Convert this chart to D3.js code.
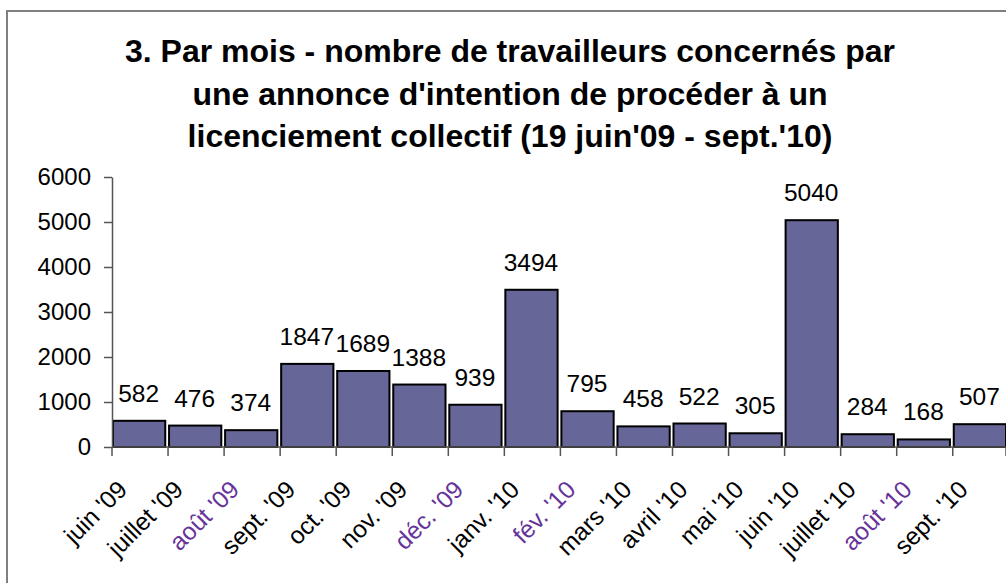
<!DOCTYPE html>
<html lang="fr">
<head>
<meta charset="UTF-8">
<title>Licenciements collectifs par mois</title>
<style>
  html, body { margin: 0; padding: 0; background: #fff; }
  body { font-family: Arial, "Liberation Sans", sans-serif; }
  #chart { width: 1006px; height: 583px; }
</style>
<script src="https://d3js.org/d3.v7.min.js"></script>
</head>
<body>
<div id="chart"></div>
<script>
// data
const months = ["juin '09", "juillet '09", "août '09", "sept. '09", "oct. '09", "nov. '09",
                "déc. '09", "janv. '10", "fév. '10", "mars '10", "avril '10", "mai '10",
                "juin '10", "juillet '10", "août '10", "sept. '10"];
const workers = [582, 476, 374, 1847, 1689, 1388, 939, 3494, 795, 458, 522, 305, 5040, 284, 168, 507];
const yTicks = [0, 1000, 2000, 3000, 4000, 5000, 6000];
const titleLines = ["3. Par mois - nombre de travailleurs concernés par",
                    "une annonce d'intention de procéder à un",
                    "licenciement collectif (19 juin'09 - sept.'10)"];
// labels that come out purple in the original
const purpleLabels = ["août '09", "déc. '09", "fév. '10", "août '10"];

const W = 1006, H = 583;
const svg = d3.select('#chart').append('svg')
    .attr('width', W)
    .attr('height', H);

// outer frame (right / bottom edges fall outside the picture)
svg.append('rect')
    .attr('x', 7).attr('y', 11)
    .attr('width', 1020).attr('height', 600)
    .attr('fill', 'none')
    .attr('stroke', '#808080')
    .attr('stroke-width', 2);

// title
svg.append('g').selectAll('text')
    .data(titleLines)
    .enter().append('text')
      .attr('x', 510)
      .attr('y', (d, i) => 62 + i * 42.5)
      .attr('text-anchor', 'middle')
      .style('font-weight', 'bold')
      .style('font-size', '32px')
      .text(d => d);

const x = d3.scaleBand()
    .domain(months)
    .range([112, 1006])
    .paddingInner(0.05)
    .paddingOuter(0)
    .align(0);

const y = d3.scaleLinear()
    .domain([0, 6000])
    .range([447, 177]);

// bars
svg.append('g').selectAll('rect')
    .data(months)
    .enter().append('rect')
      .attr('x', d => x(d) + 1)
      .attr('y', (d, i) => y(workers[i]))
      .attr('width', x.bandwidth() - 1)
      .attr('height', (d, i) => y(0) - y(workers[i]))
      .attr('fill', '#666699')
      .attr('stroke', '#000')
      .attr('stroke-width', 2);

// value labels
svg.append('g').selectAll('text')
    .data(months)
    .enter().append('text')
      .attr('x', d => x(d) + x.bandwidth() / 2)
      .attr('y', (d, i) => y(workers[i]) - 19)
      .attr('text-anchor', 'middle')
      .style('font-size', '24.5px')
      .text((d, i) => workers[i]);

// y axis
const yAxis = svg.append('g')
    .attr('transform', 'translate(112,0)')
    .call(d3.axisLeft(y).tickValues(yTicks).tickFormat(d3.format('d'))
          .tickSize(8).tickPadding(13).tickSizeOuter(0));
yAxis.selectAll('text')
    .style('font-size', '24px')
    .style('font-family', 'Arial, "Liberation Sans", sans-serif')
    .attr('fill', '#000');

// x axis: line plus ticks on the band edges
const xAxis = svg.append('g');
xAxis.append('line')
    .attr('x1', 112).attr('x2', 1006)
    .attr('y1', y(0)).attr('y2', y(0))
    .attr('stroke', '#555').attr('stroke-width', 1.5);
const edges = months.map(d => x(d)).concat([1006]);
xAxis.selectAll('line.tick')
    .data(edges)
    .enter().append('line')
      .attr('class', 'tick')
      .attr('x1', d => d).attr('x2', d => d)
      .attr('y1', y(0)).attr('y2', y(0) + 9)
      .attr('stroke', '#555').attr('stroke-width', 1.5);

yAxis.selectAll('path, line').attr('stroke', '#555').attr('stroke-width', 1.5);

// rotated month labels
xAxis.selectAll('text')
    .data(months)
    .enter().append('text')
      .attr('transform', d => `translate(${x(d) + x.bandwidth() / 2 - 10}, 491) rotate(-45)`)
      .attr('text-anchor', 'end')
      .style('font-size', '24.5px')
      .attr('fill', d => purpleLabels.includes(d) ? '#663399' : '#000')
      .text(d => d);
</script>
</body>
</html>
